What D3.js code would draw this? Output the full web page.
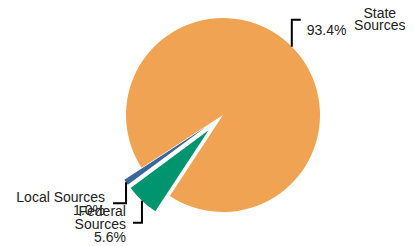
<!DOCTYPE html>
<html>
<head>
<meta charset="utf-8">
<script src="https://cdn.jsdelivr.net/npm/d3@7"></script>
<style>
  html, body { margin: 0; padding: 0; background: #fff; }
  svg { display: block; }
</style>
</head>
<body>
<script>
// data, in clockwise drawing order
var categories = ["Federal Sources", "Local Sources", "State Sources"];
var values = [5.6, 1.0, 93.4];
var pctLabels = ["5.6%", "1.0%", "93.4%"];
var colors = ["#00956e", "#3b6699", "#f0a453"];

var width = 414, height = 246;
var cx = 223, cy = 115, radius = 97;

var svg = d3.select("body").append("svg")
    .attr("width", width)
    .attr("height", height)
    .style("font-family", "'Liberation Sans', Arial, sans-serif")
    .style("font-size", "14px");

var pie = d3.pie()
    .sort(null)
    .startAngle(213.3 * Math.PI / 180)
    .endAngle((213.3 + 360) * Math.PI / 180);

var arc = d3.arc().innerRadius(0).outerRadius(radius);

// how far each slice is pulled out
var explode = [21, 21, 0];

var slices = pie(values).map(function(d, i) {
    var mid = (d.startAngle + d.endAngle) / 2;
    d.dx = Math.sin(mid) * explode[i];
    d.dy = -Math.cos(mid) * explode[i];
    d.ox = cx + d.dx + Math.sin(mid) * radius;
    d.oy = cy + d.dy - Math.cos(mid) * radius;
    return d;
});

var g = svg.append("g").attr("transform", "translate(" + cx + "," + cy + ")");

g.selectAll("path")
    .data(slices)
    .enter()
    .append("path")
    .attr("transform", function(d) { return "translate(" + d.dx + "," + d.dy + ")"; })
    .attr("d", arc)
    .attr("fill", function(d, i) { return colors[i]; });

// leader lines: vertical leg then short horizontal leg
var legY = [22, 21, -27];
var legX = [-9, -13, 9];

slices.forEach(function(d, i) {
    var x0 = d.ox, y0 = d.oy;
    var y1 = y0 + legY[i];
    var x1 = x0 + legX[i];
    svg.append("polyline")
        .attr("points", [[x0, y0], [x0, y1], [x1, y1]].join(" "))
        .attr("fill", "none")
        .attr("stroke", "#000")
        .attr("stroke-width", 2);
    d.ex = x1; d.ey = y1;
});

// Federal
var f = slices[0];
var tf = svg.append("text").attr("text-anchor", "end").attr("fill", "#222");
["Federal", "Sources", pctLabels[0]].forEach(function(s, k) {
    tf.append("tspan").attr("x", f.ex - 7).attr("y", f.ey - 7 + k * 13).text(s);
});

// Local
var l = slices[1];
var tl = svg.append("text").attr("text-anchor", "end").attr("fill", "#222");
["Local Sources", pctLabels[1]].forEach(function(s, k) {
    tl.append("tspan").attr("x", l.ex - 8).attr("y", l.ey - 1 + k * 13).text(s);
});

// State
var s = slices[2];
svg.append("text")
    .attr("x", s.ex + 6).attr("y", s.ey + 15)
    .attr("fill", "#222")
    .text(pctLabels[2]);
var ts = svg.append("text").attr("text-anchor", "middle").attr("fill", "#222");
["State", "Sources"].forEach(function(t, k) {
    ts.append("tspan").attr("x", s.ex + 79).attr("y", s.ey - 2 + k * 12.5).text(t);
});
</script>
</body>
</html>
